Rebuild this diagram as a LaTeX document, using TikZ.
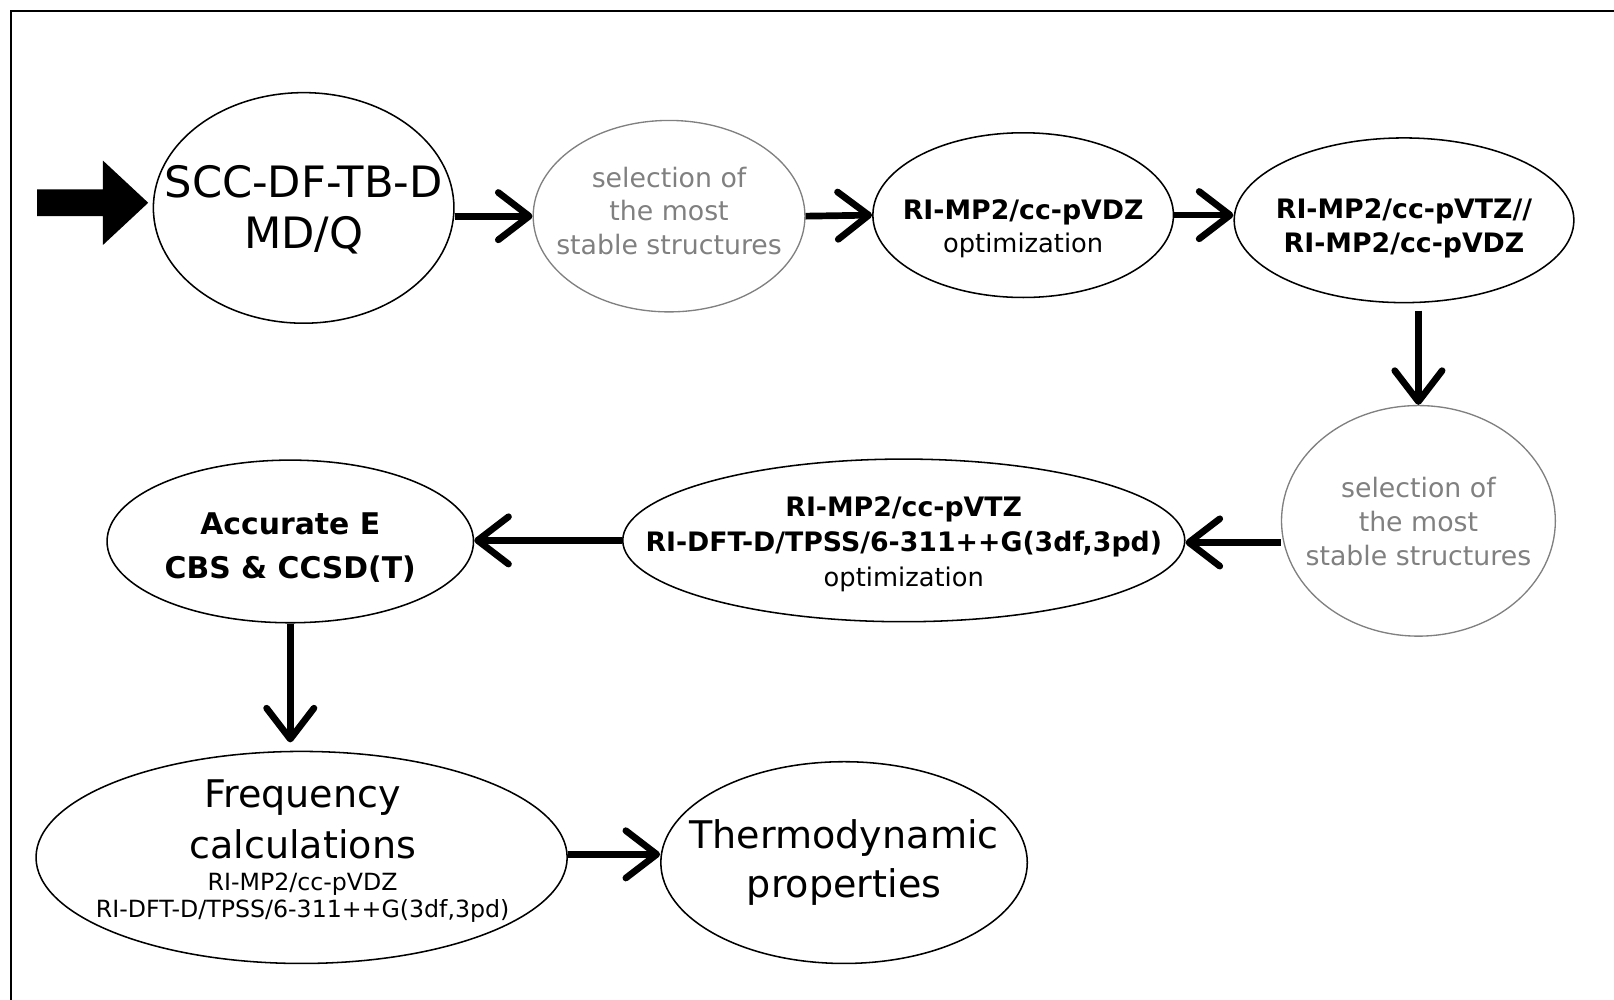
\documentclass[tikz,border=0pt]{standalone}
\usepackage{fontspec}
\setmainfont{DejaVu Sans}
\usetikzlibrary{shapes.geometric,arrows.meta,calc}
\definecolor{graycol}{RGB}{128,128,128}
\newcommand\fsz[2]{\fontsize{#1}{#2}\selectfont}
\begin{document}
\begin{tikzpicture}[x=1pt,y=-1pt,
  ell/.style={ellipse, draw=black, line width=1.5pt, inner sep=0pt},
  gell/.style={ellipse, draw=graycol, line width=1.3pt, inner sep=0pt},
  txt/.style={align=center, inner sep=0pt},
  gtxt/.style={txt, text=graycol, font=\fsz{26}{33}},
  arr/.style={line width=6.5pt, -{Straight Barb[length=30pt,width=46pt,round]}},
]
\useasboundingbox (0,0) rectangle (1568,971);
\draw[line width=1.8pt] (11,975) -- (11,11) -- (1572,11);

% ellipses
\node[ell,  minimum width=292pt, minimum height=224pt] (scc)  at (295,202) {};
\node[gell, minimum width=264pt, minimum height=186pt] (sel1) at (650,210) {};
\node[ell,  minimum width=292pt, minimum height=160pt] (opt1) at (994,209) {};
\node[ell,  minimum width=330pt, minimum height=160pt] (vtz)  at (1364,214) {};
\node[gell, minimum width=266pt, minimum height=224pt] (sel2) at (1378,506) {};
\node[ell,  minimum width=546pt, minimum height=158pt] (opt2) at (878,525) {};
\node[ell,  minimum width=356pt, minimum height=158pt] (acc)  at (282,526) {};
\node[ell,  minimum width=516pt, minimum height=206pt] (freq) at (293,833) {};
\node[ell,  minimum width=356pt, minimum height=196pt] (thermo) at (820,838) {};

% texts
\node[txt, font=\fsz{42}{50}] (scct) at (295,204) {SCC-DF-TB-D\\MD/Q};
\node[gtxt] (sel1t) at (650,205) {selection of\\the most\\stable structures};
\node[txt, font=\fsz{26}{32}] (opt1t) at (994,222) {\textbf{RI-MP2/cc-pVDZ}\\\fsz{25}{32}optimization};
\node[txt, font=\bfseries\fsz{26}{33}] (vtzt) at (1364,222) {RI-MP2/cc-pVTZ//\\RI-MP2/cc-pVDZ};
\node[gtxt] (sel2t) at (1378,507) {selection of\\the most\\stable structures};
\node[txt, font=\fsz{26}{34}] (opt2t) at (878,529) {\textbf{RI-MP2/cc-pVTZ}\\\textbf{RI-DFT-D/TPSS/6-311++G(3df,3pd)}\\\fsz{25}{34}optimization};
\node[txt, font=\bfseries\fsz{29}{42}] (acct) at (282,532) {Accurate E\\CBS \& CCSD(T)};
\node[txt, font=\fsz{37}{49}] (freqt) at (294,796) {Frequency\\calculations};
\node[txt, font=\fsz{23}{27}] (freqs) at (294,872) {RI-MP2/cc-pVDZ\\RI-DFT-D/TPSS/6-311++G(3df,3pd)};
\node[txt, font=\fsz{37}{48}] (thermot) at (820,838) {Thermodynamic\\properties};

% big entry arrow
\coordinate (bigtip) at (144,197);
\fill (36,184) -- (100,184) -- (100,156) -- (bigtip) -- (100,238) -- (100,210) -- (36,210) -- cycle;

% connector end points
\coordinate (a1) at (scc.east |- sel1.west);
\coordinate (a4) at ($(sel2.north |- vtz.south)+(0,7)$);
\coordinate (a5) at ($(sel2.west)+(0,21)$);
\coordinate (a7) at ($(acc.south |- freq.north)+(0,-8)$);
\coordinate (a8) at ($(freq.east)+(0,-3)$);

% connectors
\draw[arr] (a1) -- (sel1.west);
\draw[arr] (sel1.east) -- (opt1.west);
\draw[arr] (opt1.east) -- (opt1.east -| vtz.west);
\draw[arr] (a4) -- (sel2.north);
\draw[arr] (a5) -- (a5 -| opt2.east);
\draw[arr] (opt2.west) -- (opt2.west -| acc.east);
\draw[arr] (acc.south) -- (a7);
\draw[arr] (a8) -- (a8 -| thermo.west);
\end{tikzpicture}
\end{document}
